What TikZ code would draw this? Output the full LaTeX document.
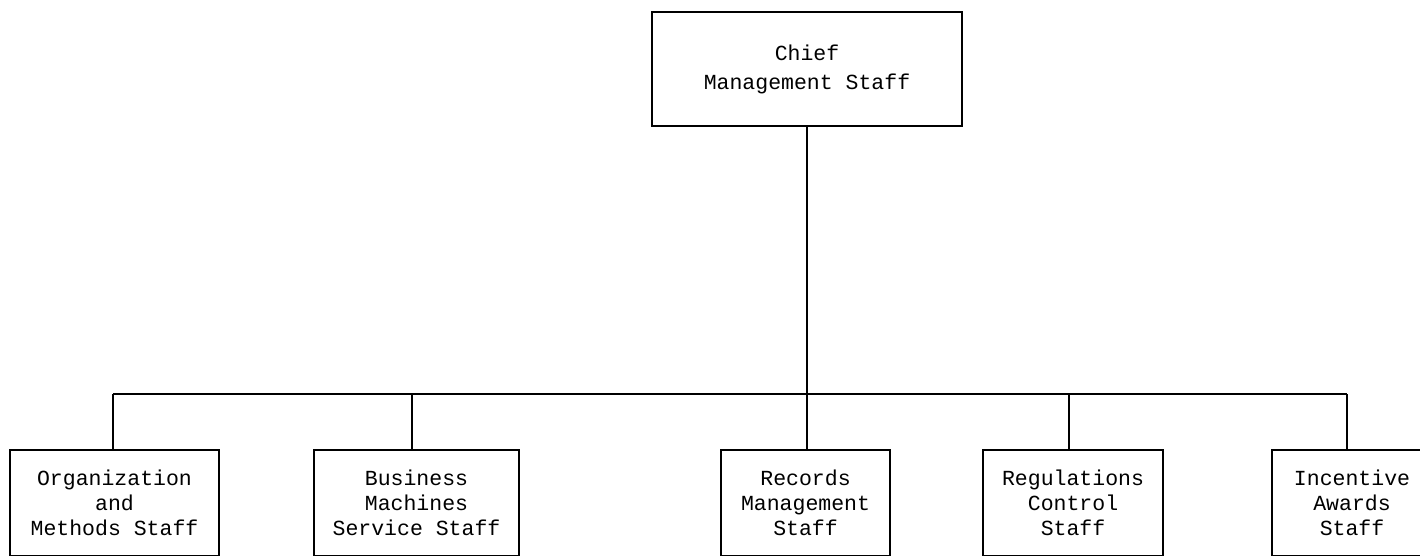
\documentclass[tikz,border=0pt]{standalone}
\usepackage{fontspec}
\setmonofont{Liberation Mono}
\begin{document}
\begin{tikzpicture}[x=1pt,y=-1pt,
  box/.style={draw,line width=1.5pt,inner sep=0pt,align=center,
    font=\ttfamily\fontsize{21.5}{25}\selectfont},
  wire/.style={line width=1.6pt}]
\useasboundingbox (0,0) rectangle (1420,556);
\clip (0,0) rectangle (1420,556);
\node[box, minimum width=310pt, minimum height=114pt,
  font=\ttfamily\fontsize{21.5}{29}\selectfont] (chief) at (807,69) {Chief\\Management Staff};
\node[box, minimum width=209pt, minimum height=106pt] (b1) at (114.5,503) {Organization\\and\\Methods Staff};
\node[box, minimum width=205pt, minimum height=106pt] (b2) at (416.5,503) {Business\\Machines\\Service Staff};
\node[box, minimum width=169pt, minimum height=106pt] (b3) at (805.5,503) {Records\\Management\\Staff};
\node[box, minimum width=180pt, minimum height=106pt] (b4) at (1073,503) {Regulations\\Control\\Staff};
\node[box, minimum width=160pt, minimum height=106pt] (b5) at (1352,503) {Incentive\\Awards\\Staff};
\coordinate (j1) at (113,394);
\coordinate (j2) at (412,394);
\coordinate (j3) at (807,394);
\coordinate (j4) at (1069,394);
\coordinate (j5) at (1347,394);
\draw[wire] (chief.south) -- (j3);
\draw[wire] (j1) -- (j5);
\draw[wire] (j1) -- (j1 |- b1.north);
\draw[wire] (j2) -- (j2 |- b2.north);
\draw[wire] (j3) -- (j3 |- b3.north);
\draw[wire] (j4) -- (j4 |- b4.north);
\draw[wire] (j5) -- (j5 |- b5.north);
\end{tikzpicture}
\end{document}
